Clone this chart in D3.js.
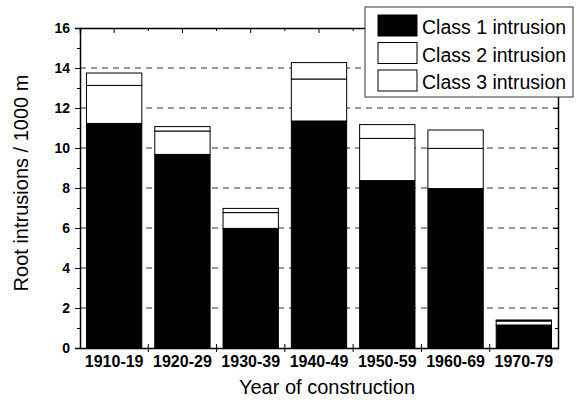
<!DOCTYPE html>
<html>
<head>
<meta charset="utf-8">
<script src="https://cdn.jsdelivr.net/npm/d3@7"></script>
<style>
  body { margin: 0; background: #fff; }
  text { font-family: "Liberation Sans", Arial, sans-serif; }
</style>
</head>
<body>
<svg width="580" height="400"></svg>
<script>
var decades = ["1910-19", "1920-29", "1930-39", "1940-49", "1950-59", "1960-69", "1970-79"];
var class1 = [11.23, 9.68, 5.98, 11.35, 8.37, 7.97, 1.15];
var class2 = [1.9, 1.17, 0.79, 2.1, 2.11, 2.01, 0.2];
var class3 = [0.62, 0.22, 0.21, 0.82, 0.69, 0.92, 0.05];
var yTicks = [0, 2, 4, 6, 8, 10, 12, 14, 16];
var seriesNames = ["Class 1 intrusion", "Class 2 intrusion", "Class 3 intrusion"];
var seriesFill = ["#000", "#fff", "#fff"];

var svg = d3.select("svg"),
    pLeft = 80, pRight = 558, pTop = 28, pBottom = 348;

var x = d3.scaleBand().domain(decades).range([pLeft, pRight]).paddingInner(0.19).paddingOuter(0.095),
    y = d3.scaleLinear().domain([0, 16]).range([pBottom, pTop]);

var rows = decades.map(function(d, i) {
  return {decade: d, c1: class1[i], c2: class2[i], c3: class3[i]};
});
var stack = d3.stack().keys(["c1", "c2", "c3"])(rows);

// dashed grid
svg.append("g").selectAll("line")
    .data(yTicks.filter(function(t) { return t > 0 && t < 16; }))
    .enter().append("line")
    .attr("x1", pLeft).attr("x2", pRight)
    .attr("y1", function(d) { return y(d); })
    .attr("y2", function(d) { return y(d); })
    .attr("stroke", "#333")
    .attr("stroke-width", 1)
    .attr("stroke-dasharray", "6,5");

// bars
svg.append("g").selectAll("g")
    .data(stack)
    .enter().append("g")
    .attr("fill", function(d, i) { return seriesFill[i]; })
    .selectAll("rect")
    .data(function(d) { return d; })
    .enter().append("rect")
    .attr("x", function(d) { return x(d.data.decade); })
    .attr("width", x.bandwidth())
    .attr("y", function(d) { return y(d[1]); })
    .attr("height", function(d) { return y(d[0]) - y(d[1]); })
    .attr("stroke", "#000")
    .attr("stroke-width", 1);

// axes
var yMinor = d3.range(1, 16, 2);
var gl = svg.append("g").attr("transform", "translate(" + pLeft + ",0)")
    .call(d3.axisLeft(y).tickValues(yTicks).tickSize(5).tickPadding(5));
gl.selectAll("text").style("font-size", "14px").style("font-weight", "bold");
svg.append("g").attr("transform", "translate(" + pLeft + ",0)")
    .call(d3.axisLeft(y).tickValues(yMinor).tickSize(3).tickFormat(""))
    .select(".domain").remove();

svg.append("g").attr("transform", "translate(" + pRight + ",0)")
    .call(d3.axisLeft(y).tickValues(yTicks).tickSize(5).tickFormat(""));
svg.append("g").attr("transform", "translate(" + pRight + ",0)")
    .call(d3.axisLeft(y).tickValues(yMinor).tickSize(3).tickFormat(""))
    .select(".domain").remove();

var gb = svg.append("g").attr("transform", "translate(0," + pBottom + ")")
    .call(d3.axisBottom(x).tickSize(0).tickPadding(8));
gb.selectAll("text").style("font-size", "16px").style("font-weight", "bold");
// boundary ticks on bottom axis
svg.append("g").selectAll("line")
    .data(decades.slice(1))
    .enter().append("line")
    .attr("x1", function(d) { return x(d) - x.step() * x.paddingInner() / 2; })
    .attr("x2", function(d) { return x(d) - x.step() * x.paddingInner() / 2; })
    .attr("y1", pBottom - 4).attr("y2", pBottom + 4)
    .attr("stroke", "#000");

svg.append("g").attr("transform", "translate(0," + pTop + ")")
    .call(d3.axisBottom(x).tickSize(5).tickFormat(""));
svg.append("g").selectAll("line")
    .data(decades.slice(1))
    .enter().append("line")
    .attr("x1", function(d) { return x(d) - x.step() * x.paddingInner() / 2; })
    .attr("x2", function(d) { return x(d) - x.step() * x.paddingInner() / 2; })
    .attr("y1", pTop).attr("y2", pTop + 3)
    .attr("stroke", "#000");

svg.selectAll(".domain").attr("stroke-width", 1.5);

// axis titles
svg.append("text")
    .attr("transform", "translate(28,183) rotate(-90)")
    .attr("text-anchor", "middle")
    .style("font-size", "20px")
    .text("Root intrusions / 1000 m");
svg.append("text")
    .attr("x", 327).attr("y", 394)
    .attr("text-anchor", "middle")
    .style("font-size", "20px")
    .text("Year of construction");

// legend
var lg = svg.append("g");
lg.append("rect")
    .attr("x", 365).attr("y", 7).attr("width", 208).attr("height", 90)
    .attr("fill", "#fff").attr("stroke", "#333").attr("stroke-width", 1);
var items = lg.selectAll("g.item").data(seriesNames).enter().append("g")
    .attr("transform", function(d, i) { return "translate(378," + (15 + i * 27.5) + ")"; });
items.append("rect")
    .attr("width", 39).attr("height", 21)
    .attr("fill", function(d, i) { return seriesFill[i]; })
    .attr("stroke", "#000");
items.append("text")
    .attr("x", 44).attr("y", 19)
    .style("font-size", "19.5px")
    .text(function(d) { return d; });
</script>
</body>
</html>
